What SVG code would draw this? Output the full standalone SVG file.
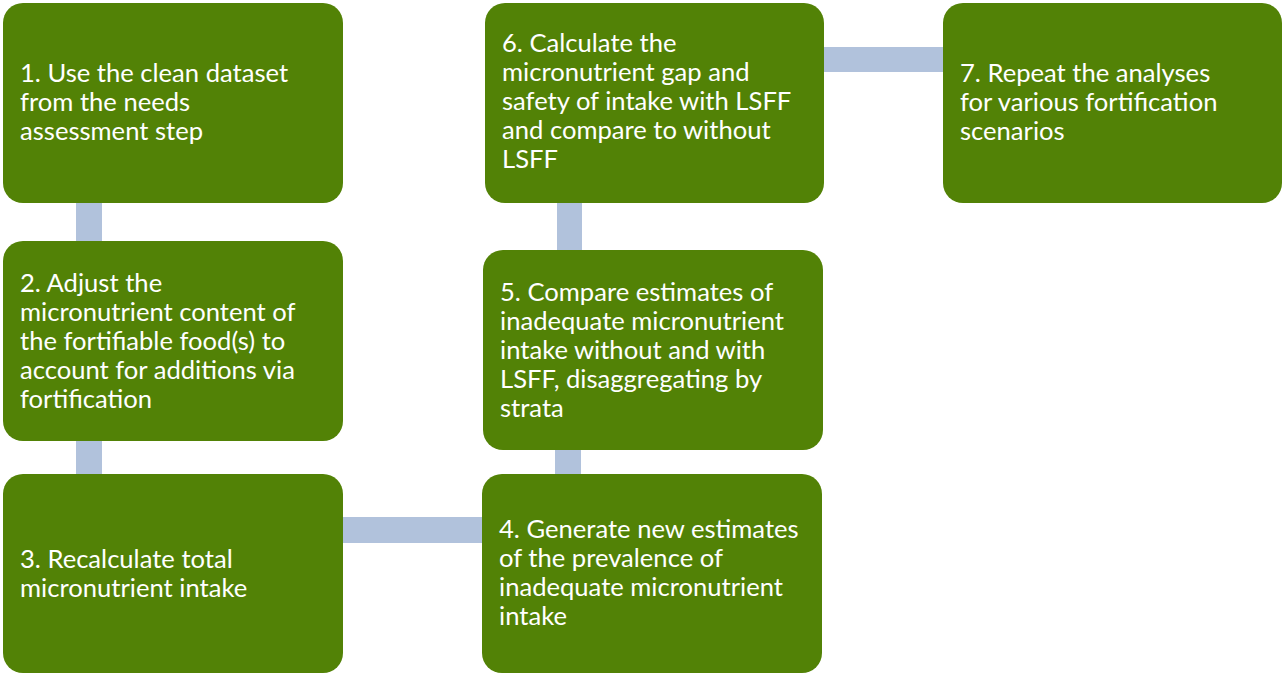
<svg xmlns="http://www.w3.org/2000/svg" width="1282" height="673" viewBox="0 0 1282 673">
  <style>
    .box { fill: #528206; }
    .link { fill: #b1c2dc; }
    .lbl { font-family: "Lato", "Open Sans", "Liberation Sans", sans-serif; font-size: 25.6px; fill: #ffffff; }
  </style>
  <rect width="1282" height="673" fill="#ffffff"/>

  <!-- connector bars between steps -->
  <g id="connectors">
    <rect class="link" x="76" y="200" width="26" height="45"/>
    <rect class="link" x="76" y="438" width="26" height="40"/>
    <rect class="link" x="340" y="517" width="146" height="26"/>
    <rect class="link" x="555" y="446" width="26" height="32"/>
    <rect class="link" x="557" y="200" width="25" height="54"/>
    <rect class="link" x="820" y="47" width="127" height="25"/>
  </g>

  <g id="step1">
    <rect class="box" x="3" y="3" width="340" height="200" rx="20"/>
    <text class="lbl" x="20" y="82">1. Use the clean dataset</text>
    <text class="lbl" x="20" y="111">from the needs</text>
    <text class="lbl" x="20" y="140">assessment step</text>
  </g>

  <g id="step2">
    <rect class="box" x="3" y="241" width="340" height="200" rx="20"/>
    <text class="lbl" x="20" y="292">2. Adjust the</text>
    <text class="lbl" x="20" y="321">micronutrient content of</text>
    <text class="lbl" x="20" y="350">the fortifiable food(s) to</text>
    <text class="lbl" x="20" y="379">account for additions via</text>
    <text class="lbl" x="20" y="408">fortification</text>
  </g>

  <g id="step3">
    <rect class="box" x="3" y="474" width="340" height="199" rx="20"/>
    <text class="lbl" x="20" y="568">3. Recalculate total</text>
    <text class="lbl" x="20" y="597">micronutrient intake</text>
  </g>

  <g id="step4">
    <rect class="box" x="482" y="474" width="340" height="199" rx="20"/>
    <text class="lbl" x="499" y="538">4. Generate new estimates</text>
    <text class="lbl" x="499" y="567">of the prevalence of</text>
    <text class="lbl" x="499" y="596">inadequate micronutrient</text>
    <text class="lbl" x="499" y="625">intake</text>
  </g>

  <g id="step5">
    <rect class="box" x="483" y="250" width="340" height="200" rx="20"/>
    <text class="lbl" x="500" y="301">5. Compare estimates of</text>
    <text class="lbl" x="500" y="330">inadequate micronutrient</text>
    <text class="lbl" x="500" y="359">intake without and with</text>
    <text class="lbl" x="500" y="388">LSFF, disaggregating by</text>
    <text class="lbl" x="500" y="417">strata</text>
  </g>

  <g id="step6">
    <rect class="box" x="485" y="3" width="339" height="200" rx="20"/>
    <text class="lbl" x="502" y="52">6. Calculate the</text>
    <text class="lbl" x="502" y="81">micronutrient gap and</text>
    <text class="lbl" x="502" y="110">safety of intake with LSFF</text>
    <text class="lbl" x="502" y="139">and compare to without</text>
    <text class="lbl" x="502" y="168">LSFF</text>
  </g>

  <g id="step7">
    <rect class="box" x="943" y="3" width="339" height="200" rx="20"/>
    <text class="lbl" x="960" y="82">7. Repeat the analyses</text>
    <text class="lbl" x="960" y="111">for various fortification</text>
    <text class="lbl" x="960" y="140">scenarios</text>
  </g>
</svg>
